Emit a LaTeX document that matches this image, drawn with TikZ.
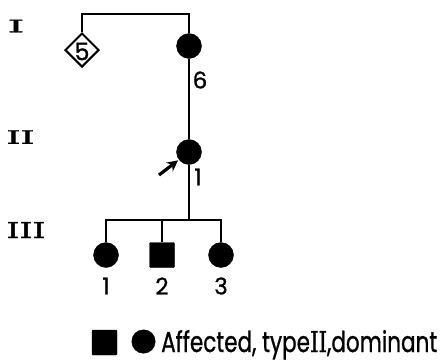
\documentclass[tikz,border=0pt]{standalone}
\usepackage{fontspec}
\usetikzlibrary{shapes.geometric,arrows.meta}
\newfontfamily\pop[FakeBold=1]{Poppins}
\newfontfamily\rom[FakeBold=1.5]{DejaVu Serif}
\tikzset{
  ln/.style={line width=2.2pt},
  fem/.style={circle,fill=black,draw=black,minimum size=25pt,inner sep=0pt},
  mal/.style={rectangle,fill=black,draw=black,minimum size=25pt,inner sep=0pt,rounded corners=1pt},
  unk/.style={diamond,draw=black,line width=2pt,minimum size=34pt,inner sep=0pt},
  num/.style={inner sep=0pt,font=\pop\fontsize{23}{23}\selectfont},
  gen/.style={inner sep=0pt},
}
\begin{document}
\begin{tikzpicture}[x=1pt,y=-1pt]
\useasboundingbox (0,0) rectangle (441,359);
% generation labels
\node[gen] (gI) at (16,26) {\resizebox{17pt}{12.5pt}{\rom I}};
\node[gen] (gII) at (20.5,137) {\resizebox{28pt}{13.5pt}{\rom II}};
\node[gen] (gIII) at (26,230) {\resizebox{39pt}{16pt}{\rom III}};
% generation I
\node[unk] (i5) at (82,50) {};
\node[inner sep=0pt,font=\pop\fontsize{24}{24}\selectfont] (i5l) at (82,51.5) {5};
\node[fem] (i6) at (189,46) {};
\node[num] (i6l) at (200,80) {6};
\coordinate (m) at (135,14);
\draw[ln] (i5.north) |- (m) -| (i6.north);
% generation II
\node[fem] (ii1) at (189,152) {};
\node[num] (ii1l) at (198,177) {1};
\draw[line width=1.8pt] (i6.south) -- (ii1.north);
\coordinate (arr) at (159,175);
\draw[line width=3.2pt,-{Stealth[length=11pt,width=11pt]},shorten >=1pt] (arr) -- (ii1);
% generation III
\node[fem] (iii1) at (106,255) {};
\node[mal] (iii2) at (162,255) {};
\node[fem] (iii3) at (221,255) {};
\coordinate (s) at (189,220);
\draw[ln] (ii1.south) -- (s);
\draw[line width=2.6pt] (iii1.north) |- (s) -| (iii3.north);
\draw[ln] (iii2.north) -- (iii2.north |- s);
\node[num] (iii1l) at (106,286) {1};
\node[num] (iii2l) at (162,286) {2};
\node[num] (iii3l) at (221,286) {3};
% legend
\node[mal] (lsq) at (104.5,342.5) {};
\node[fem,minimum size=23.5pt] (lci) at (143.5,341.5) {};
\node[anchor=base west,inner sep=0pt] (ltx) at (161,352) {\resizebox{276pt}{22pt}{\pop Affected, type{\rom II},dominant}};
\end{tikzpicture}
\end{document}
